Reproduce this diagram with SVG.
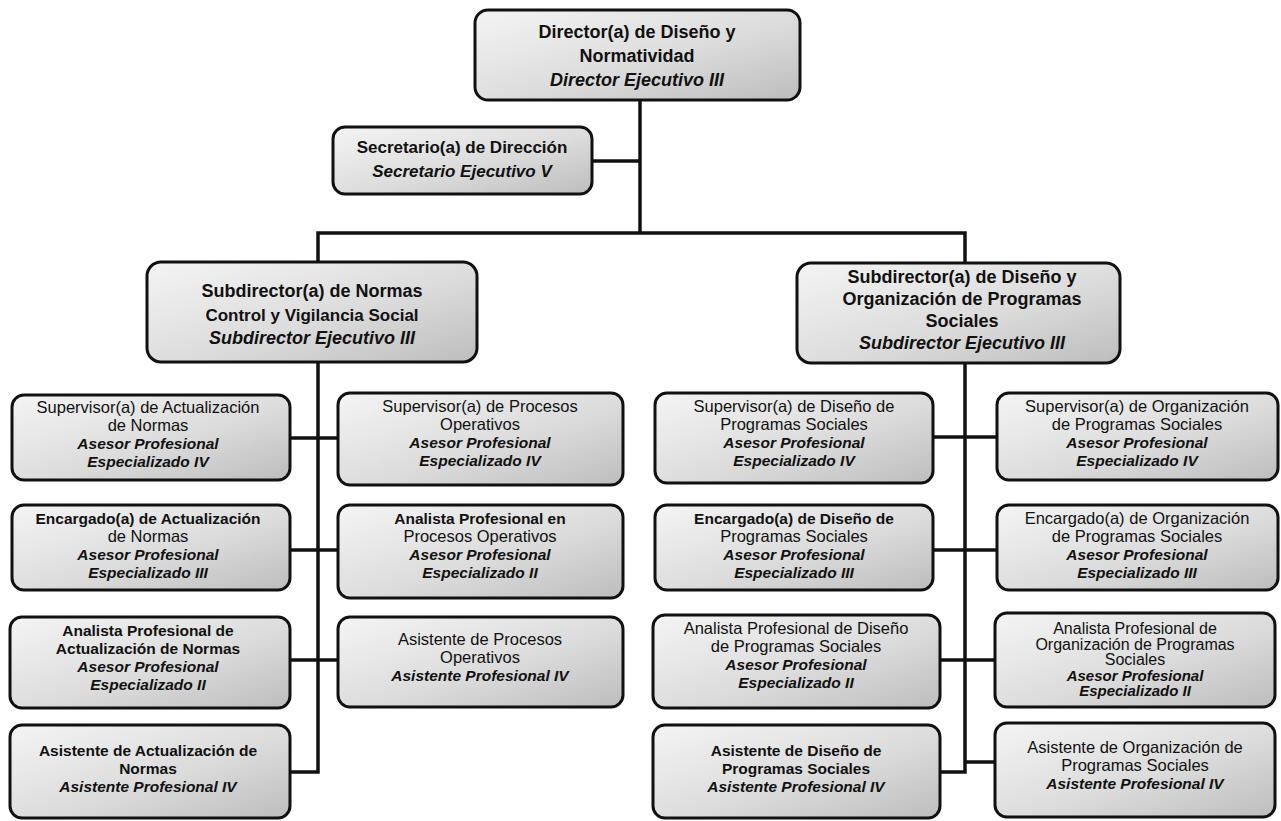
<svg xmlns="http://www.w3.org/2000/svg" width="1281" height="821" viewBox="0 0 1281 821">
<defs>
<linearGradient id="g" x1="0" y1="0" x2="1" y2="1">
<stop offset="0" stop-color="#f4f4f4"/>
<stop offset="0.55" stop-color="#dcdcdc"/>
<stop offset="1" stop-color="#bdbdbd"/>
</linearGradient>
</defs>
<style>
.box{fill:url(#g);stroke:#111;stroke-width:3}
.ln{fill:none;stroke:#111;stroke-width:3.5}
text{font-family:"Liberation Sans",Arial,sans-serif;text-anchor:middle;fill:#111}
.t{font-size:16.5px}
.t.b{font-size:15.5px}
.b{font-weight:bold}
.i{font-style:italic;font-weight:bold}
.t.i{font-size:15.5px}
.h{font-size:18px}
.s{font-size:16px}
.s.i{font-size:15px}
</style>
<rect width="1281" height="821" fill="#ffffff"/>
<g id="connectors">
<path class="ln" d="M640 100 V233"/>
<path class="ln" d="M592 161 H640"/>
<path class="ln" d="M318 262 V233 H965 V263"/>
<path class="ln" d="M318 362 V772 H290"/>
<path class="ln" d="M290 438 H338"/>
<path class="ln" d="M290 550 H338"/>
<path class="ln" d="M290 660 H338"/>
<path class="ln" d="M965 363 V772 H940"/>
<path class="ln" d="M933 437 H997"/>
<path class="ln" d="M933 550 H997"/>
<path class="ln" d="M940 660 H995"/>
<path class="ln" d="M965 762 H995"/>
</g>
<g id="director">
<rect class="box" x="475" y="10" width="325" height="90" rx="13"/>
<text class="h b" x="637" y="38">Director(a) de Diseño y</text>
<text class="h b" x="637" y="62">Normatividad</text>
<text class="h i" x="637" y="86">Director Ejecutivo III</text>
</g>
<g id="secretario">
<rect class="box" x="333" y="127" width="259" height="67" rx="12"/>
<text class="t b" x="462" y="153" style="font-size:17px">Secretario(a) de Dirección</text>
<text class="t i" x="462" y="177" style="font-size:17px">Secretario Ejecutivo V</text>
</g>
<g id="sub-normas">
<rect class="box" x="147" y="262" width="330" height="100" rx="14"/>
<text class="h b" x="312" y="297">Subdirector(a) de Normas</text>
<text class="h b" x="312" y="321" style="font-size:17px">Control y Vigilancia Social</text>
<text class="h i" x="312" y="344">Subdirector Ejecutivo III</text>
</g>
<g id="sub-diseno">
<rect class="box" x="797" y="263" width="323" height="100" rx="14"/>
<text class="h b" x="962" y="283">Subdirector(a) de Diseño y</text>
<text class="h b" x="962" y="305">Organización de Programas</text>
<text class="h b" x="962" y="327">Sociales</text>
<text class="h i" x="962" y="349">Subdirector Ejecutivo III</text>
</g>
<g id="sup-act">
<rect class="box" x="12" y="395" width="278" height="85" rx="12"/>
<text class="t" x="148" y="413">Supervisor(a) de Actualización</text>
<text class="t" x="148" y="431">de Normas</text>
<text class="t i" x="148" y="449">Asesor Profesional</text>
<text class="t i" x="148" y="467">Especializado IV</text>
</g>
<g id="enc-act">
<rect class="box" x="12" y="505" width="278" height="85" rx="12"/>
<text class="t b" x="148" y="524">Encargado(a) de Actualización</text>
<text class="t" x="148" y="542">de Normas</text>
<text class="t i" x="148" y="560">Asesor Profesional</text>
<text class="t i" x="148" y="578">Especializado III</text>
</g>
<g id="ana-act">
<rect class="box" x="10" y="617" width="280" height="91" rx="12"/>
<text class="t b" x="148" y="636">Analista Profesional de</text>
<text class="t b" x="148" y="654">Actualización de Normas</text>
<text class="t i" x="148" y="672">Asesor Profesional</text>
<text class="t i" x="148" y="690">Especializado II</text>
</g>
<g id="asi-act">
<rect class="box" x="10" y="725" width="280" height="93" rx="12"/>
<text class="t b" x="148" y="756">Asistente de Actualización de</text>
<text class="t b" x="148" y="774">Normas</text>
<text class="t i" x="148" y="792">Asistente Profesional IV</text>
</g>
<g id="sup-proc">
<rect class="box" x="338" y="393" width="285" height="92" rx="12"/>
<text class="t" x="480" y="412">Supervisor(a) de Procesos</text>
<text class="t" x="480" y="430">Operativos</text>
<text class="t i" x="480" y="448">Asesor Profesional</text>
<text class="t i" x="480" y="466">Especializado IV</text>
</g>
<g id="ana-proc">
<rect class="box" x="338" y="505" width="285" height="93" rx="12"/>
<text class="t b" x="480" y="524">Analista Profesional en</text>
<text class="t" x="480" y="542">Procesos Operativos</text>
<text class="t i" x="480" y="560">Asesor Profesional</text>
<text class="t i" x="480" y="578">Especializado II</text>
</g>
<g id="asi-proc">
<rect class="box" x="338" y="617" width="285" height="90" rx="12"/>
<text class="t" x="480" y="645">Asistente de Procesos</text>
<text class="t" x="480" y="663">Operativos</text>
<text class="t i" x="480" y="681">Asistente Profesional IV</text>
</g>
<g id="sup-dis">
<rect class="box" x="655" y="393" width="278" height="90" rx="12"/>
<text class="t" x="794" y="412">Supervisor(a) de Diseño de</text>
<text class="t" x="794" y="430">Programas Sociales</text>
<text class="t i" x="794" y="448">Asesor Profesional</text>
<text class="t i" x="794" y="466">Especializado IV</text>
</g>
<g id="enc-dis">
<rect class="box" x="655" y="505" width="278" height="85" rx="12"/>
<text class="t b" x="794" y="524">Encargado(a) de Diseño de</text>
<text class="t" x="794" y="542">Programas Sociales</text>
<text class="t i" x="794" y="560">Asesor Profesional</text>
<text class="t i" x="794" y="578">Especializado III</text>
</g>
<g id="ana-dis">
<rect class="box" x="653" y="615" width="287" height="93" rx="12"/>
<text class="t" x="796" y="634">Analista Profesional de Diseño</text>
<text class="t" x="796" y="652">de Programas Sociales</text>
<text class="t i" x="796" y="670">Asesor Profesional</text>
<text class="t i" x="796" y="688">Especializado II</text>
</g>
<g id="asi-dis">
<rect class="box" x="653" y="725" width="287" height="93" rx="12"/>
<text class="t b" x="796" y="756">Asistente de Diseño de</text>
<text class="t b" x="796" y="774">Programas Sociales</text>
<text class="t i" x="796" y="792">Asistente Profesional IV</text>
</g>
<g id="sup-org">
<rect class="box" x="997" y="393" width="281" height="87" rx="12"/>
<text class="t" x="1137" y="412">Supervisor(a) de Organización</text>
<text class="t" x="1137" y="430">de Programas Sociales</text>
<text class="t i" x="1137" y="448">Asesor Profesional</text>
<text class="t i" x="1137" y="466">Especializado IV</text>
</g>
<g id="enc-org">
<rect class="box" x="997" y="505" width="281" height="85" rx="12"/>
<text class="t" x="1137" y="524">Encargado(a) de  Organización</text>
<text class="t" x="1137" y="542">de Programas Sociales</text>
<text class="t i" x="1137" y="560">Asesor Profesional</text>
<text class="t i" x="1137" y="578">Especializado III</text>
</g>
<g id="ana-org">
<rect class="box" x="995" y="613" width="280" height="94" rx="12"/>
<text class="s" x="1135" y="634">Analista Profesional de</text>
<text class="s" x="1135" y="650">Organización de Programas</text>
<text class="s" x="1135" y="665">Sociales</text>
<text class="s i" x="1135" y="681">Asesor Profesional</text>
<text class="s i" x="1135" y="696">Especializado II</text>
</g>
<g id="asi-org">
<rect class="box" x="995" y="723" width="280" height="94" rx="12"/>
<text class="t" x="1135" y="753">Asistente de  Organización de</text>
<text class="t" x="1135" y="771">Programas Sociales</text>
<text class="t i" x="1135" y="789">Asistente Profesional IV</text>
</g>
</svg>
